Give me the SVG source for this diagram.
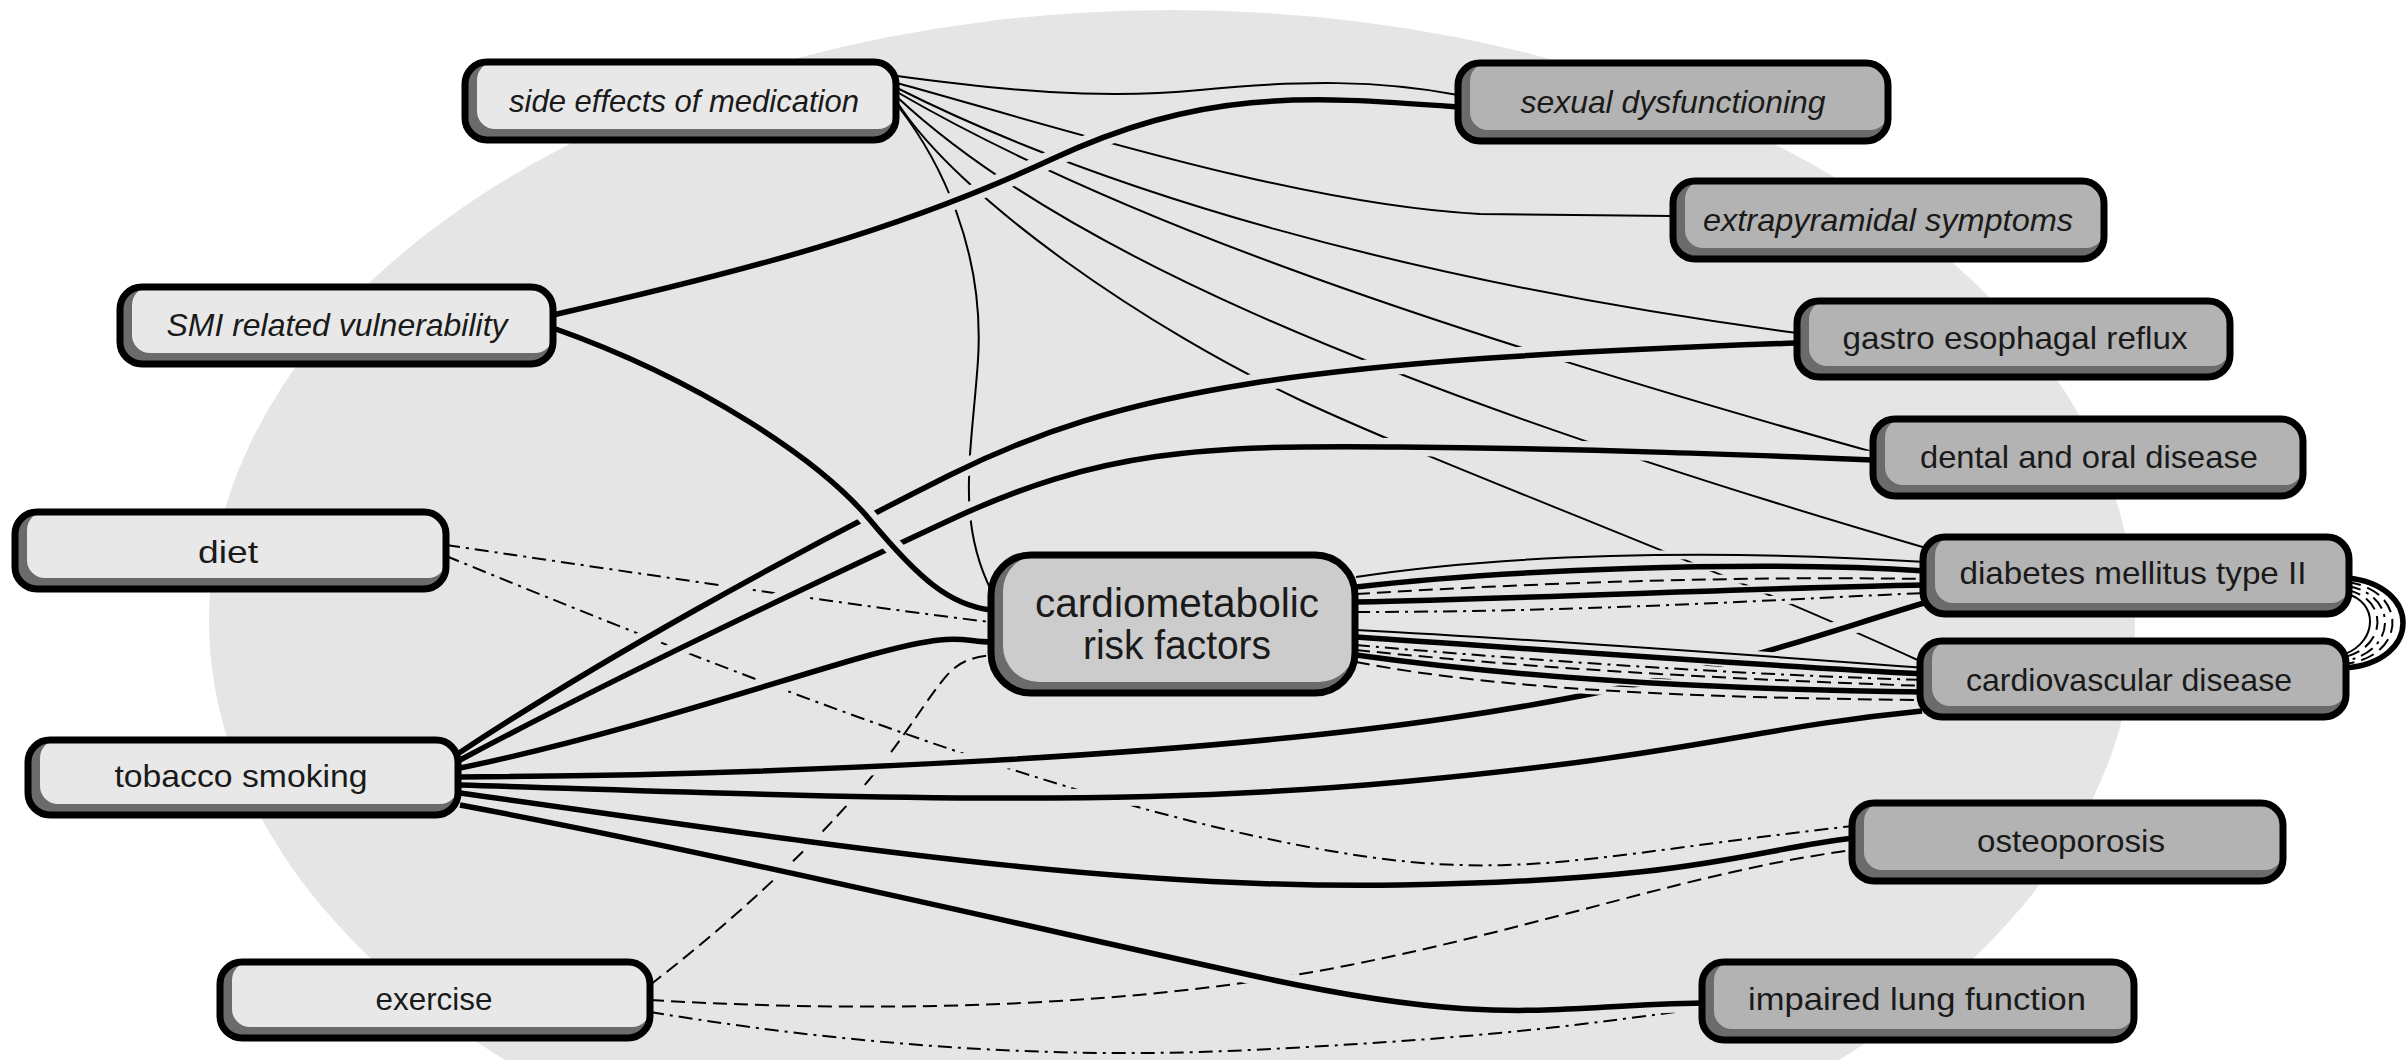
<svg xmlns="http://www.w3.org/2000/svg" xmlns:xlink="http://www.w3.org/1999/xlink" width="2407" height="1060" viewBox="0 0 2407 1060">
<style>
.bg{fill:#e5e5e5}
.sh{fill:#6b6b6b}
.fl{fill:#e8e8e8}
.fr{fill:#b3b3b3}
.fc{fill:#cccccc}
.bd{fill:none;stroke:#000;stroke-width:7}
.t{font-family:"Liberation Sans",Arial,sans-serif;font-size:32px;fill:#1a1a1a;text-anchor:middle}
.it{font-style:italic}
.tc{font-size:40px}
.c{fill:none;stroke:#000}
.thin{stroke-width:2}
.thick{stroke-width:5.5}
.dash{stroke-width:2;stroke-dasharray:14 7}
.dd{stroke-width:2;stroke-dasharray:14 6 3 6}
.halo{fill:none;stroke:#e5e5e5;stroke-width:18}
.halo2{fill:none;stroke:#e5e5e5;stroke-width:9}
</style>
<defs>
<path id="p-se-sex" d="M 897 76 C 1000 90, 1100 100, 1200 90 S 1380 80, 1458 95"/>
<path id="p-se-ext" d="M 897 83 C 1050 125, 1300 205, 1480 214 L 1673 216"/>
<path id="p-se-gas" d="M 897 88 C 1100 190, 1400 280, 1797 333"/>
<path id="p-se-den" d="M 897 92 C 1100 210, 1400 320, 1873 452"/>
<path id="p-se-dia" d="M 897 97 C 1050 240, 1350 380, 1926 548"/>
<path id="p-se-cvd" d="M 897 102 C 960 200, 1150 330, 1300 400 S 1700 560, 1922 662"/>
<path id="p-se-cm" d="M 898 106 C 940 160, 985 250, 978 360 C 972 450, 955 520, 992 592"/>
<path id="p-di-cm" d="M 446 545 C 650 575, 850 605, 990 622"/>
<path id="p-di-os" d="M 446 556 C 700 660, 1000 780, 1250 835 S 1550 860, 1853 826"/>
<path id="p-ex-cm" d="M 650 985 C 760 900, 850 810, 900 740 S 950 660, 992 655"/>
<path id="p-ex-os" d="M 650 1000 C 900 1015, 1150 1005, 1350 965 S 1700 870, 1853 850"/>
<path id="p-ex-lu" d="M 650 1012 C 850 1045, 1050 1060, 1250 1050 S 1550 1030, 1703 1008"/>
<path id="p-to-gas" d="M 459 753 C 600 660, 780 560, 950 475 S 1300 360, 1797 343"/>
<path id="p-to-den" d="M 460 760 C 620 675, 800 590, 950 520 S 1200 445, 1400 447 S 1750 455, 1873 460"/>
<path id="p-to-cm" d="M 460 768 C 620 735, 780 680, 870 655 S 960 642, 992 642"/>
<path id="p-to-dia" d="M 460 777 C 800 775, 1200 755, 1450 718 S 1800 640, 1924 603"/>
<path id="p-to-cvd" d="M 460 785 C 800 795, 1100 810, 1400 782 S 1750 728, 1922 711"/>
<path id="p-to-os" d="M 460 793 C 800 840, 1100 890, 1400 885 S 1750 850, 1853 838"/>
<path id="p-to-lu" d="M 460 805 C 700 850, 1000 920, 1250 975 S 1550 1005, 1703 1003"/>
<path id="p-smi-sex" d="M 553 315 C 750 270, 900 230, 1050 160 S 1300 95, 1458 107"/>
<path id="p-smi-cm" d="M 553 328 C 700 380, 820 460, 870 520 S 950 605, 991 610"/>
<path id="p-b1" d="M 1356 577 C 1500 555, 1700 548, 1926 562"/>
<path id="p-b2" d="M 1356 587 C 1500 570, 1750 560, 1926 571"/>
<path id="p-b3" d="M 1356 594 C 1550 582, 1750 576, 1926 579"/>
<path id="p-b4" d="M 1356 602 C 1550 598, 1750 588, 1926 585"/>
<path id="p-b5" d="M 1356 612 C 1600 612, 1800 598, 1926 593"/>
<path id="p-c1" d="M 1356 630 C 1550 640, 1750 655, 1926 668"/>
<path id="p-c2" d="M 1356 637 C 1550 650, 1750 665, 1926 674"/>
<path id="p-c3" d="M 1356 645 C 1550 662, 1750 675, 1926 680"/>
<path id="p-c4" d="M 1356 650 C 1550 670, 1750 680, 1926 686"/>
<path id="p-c5" d="M 1356 655 C 1550 682, 1750 690, 1926 692"/>
<path id="p-c6" d="M 1356 662 C 1500 690, 1700 698, 1926 700"/>
</defs>

<ellipse class="bg" cx="1172" cy="620" rx="963" ry="610"/>

<g id="connectors">
  <!-- side effects of medication: thin solid -->
  <use href="#p-se-sex" class="c thin"/>
  <use href="#p-se-ext" class="c thin"/>
  <use href="#p-se-gas" class="c thin"/>
  <use href="#p-se-den" class="c thin"/>
  <use href="#p-se-dia" class="c thin"/>
  <use href="#p-se-cvd" class="c thin"/>
  <use href="#p-se-cm" class="c thin"/>
  <!-- diet / exercise -->
  <use href="#p-di-cm" class="c dd"/>
  <use href="#p-di-os" class="c dd"/>
  <use href="#p-ex-cm" class="c dash"/>
  <use href="#p-ex-os" class="c dash"/>
  <use href="#p-ex-lu" class="c dd"/>
  <!-- tobacco smoking: thick -->
  <use href="#p-to-gas" class="halo"/>
  <use href="#p-to-den" class="halo"/>
  <use href="#p-to-cm" class="halo"/>
  <use href="#p-to-dia" class="halo"/>
  <use href="#p-to-cvd" class="halo"/>
  <use href="#p-to-os" class="halo"/>
  <use href="#p-to-lu" class="halo"/>
  <use href="#p-to-gas" class="c thick"/>
  <use href="#p-to-den" class="c thick"/>
  <use href="#p-to-cm" class="c thick"/>
  <use href="#p-to-dia" class="c thick"/>
  <use href="#p-to-cvd" class="c thick"/>
  <use href="#p-to-os" class="c thick"/>
  <use href="#p-to-lu" class="c thick"/>
  <!-- SMI related vulnerability: thick -->
  <use href="#p-smi-sex" class="halo"/>
  <use href="#p-smi-cm" class="halo"/>
  <use href="#p-smi-sex" class="c thick"/>
  <use href="#p-smi-cm" class="c thick"/>
  <!-- cardiometabolic bundles -->
  <use href="#p-b1" class="halo2"/>
  <use href="#p-b2" class="halo2"/>
  <use href="#p-b3" class="halo2"/>
  <use href="#p-b4" class="halo2"/>
  <use href="#p-b5" class="halo2"/>
  <use href="#p-c1" class="halo2"/>
  <use href="#p-c2" class="halo2"/>
  <use href="#p-c3" class="halo2"/>
  <use href="#p-c4" class="halo2"/>
  <use href="#p-c5" class="halo2"/>
  <use href="#p-c6" class="halo2"/>
  <use href="#p-b1" class="c thin"/>
  <use href="#p-b2" class="c thick"/>
  <use href="#p-b3" class="c dash"/>
  <use href="#p-b4" class="c thick"/>
  <use href="#p-b5" class="c dd"/>
  <use href="#p-c1" class="c thin"/>
  <use href="#p-c2" class="c thick"/>
  <use href="#p-c3" class="c dd"/>
  <use href="#p-c4" class="c dash"/>
  <use href="#p-c5" class="c thick"/>
  <use href="#p-c6" class="c dash"/>
  <!-- diabetes <-> cardiovascular loops -->
  <path class="c thick" d="M 2347 578 C 2422 585, 2422 662, 2345 668"/>
  <path class="c dash" d="M 2347 582 C 2408 590, 2408 656, 2345 664"/>
  <path class="c dd" d="M 2347 586 C 2398 594, 2398 651, 2345 661"/>
  <path class="c dash" d="M 2347 590 C 2388 598, 2388 646, 2345 657"/>
  <path class="c thin" d="M 2347 594 C 2378 602, 2378 641, 2345 654"/>
</g>

<g id="node-side-effects">
  <rect class="sh" x="465" y="62" width="431" height="78" rx="22"/>
  <rect class="fl" x="477" y="62" width="419" height="67" rx="18"/>
  <rect class="bd" x="465" y="62" width="431" height="78" rx="22"/>
  <text class="t it" x="684" y="112" textLength="350" lengthAdjust="spacingAndGlyphs">side effects of medication</text>
</g>
<g id="node-smi">
  <rect class="sh" x="120" y="287" width="433" height="77" rx="22"/>
  <rect class="fl" x="132" y="287" width="421" height="66" rx="18"/>
  <rect class="bd" x="120" y="287" width="433" height="77" rx="22"/>
  <text class="t it" x="337" y="336" textLength="341" lengthAdjust="spacingAndGlyphs">SMI related vulnerability</text>
</g>
<g id="node-diet">
  <rect class="sh" x="15" y="512" width="431" height="77" rx="22"/>
  <rect class="fl" x="27" y="512" width="419" height="66" rx="18"/>
  <rect class="bd" x="15" y="512" width="431" height="77" rx="22"/>
  <text class="t" x="228" y="563" textLength="60" lengthAdjust="spacingAndGlyphs">diet</text>
</g>
<g id="node-tobacco">
  <rect class="sh" x="28" y="740" width="430" height="75" rx="22"/>
  <rect class="fl" x="40" y="740" width="418" height="64" rx="18"/>
  <rect class="bd" x="28" y="740" width="430" height="75" rx="22"/>
  <text class="t" x="241" y="787" textLength="253" lengthAdjust="spacingAndGlyphs">tobacco smoking</text>
</g>
<g id="node-exercise">
  <rect class="sh" x="220" y="962" width="430" height="76" rx="22"/>
  <rect class="fl" x="232" y="962" width="418" height="65" rx="18"/>
  <rect class="bd" x="220" y="962" width="430" height="76" rx="22"/>
  <text class="t" x="434" y="1010" textLength="117" lengthAdjust="spacingAndGlyphs">exercise</text>
</g>
<g id="node-cardiometabolic">
  <rect class="sh" x="991" y="555" width="364" height="138" rx="40"/>
  <rect class="fc" x="1003" y="555" width="352" height="127" rx="36"/>
  <rect class="bd" x="991" y="555" width="364" height="138" rx="40"/>
  <text class="t tc" x="1177" y="617" textLength="284" lengthAdjust="spacingAndGlyphs">cardiometabolic</text>
  <text class="t tc" x="1177" y="659" textLength="188" lengthAdjust="spacingAndGlyphs">risk factors</text>
</g>
<g id="node-sexual">
  <rect class="sh" x="1458" y="63" width="430" height="78" rx="22"/>
  <rect class="fr" x="1470" y="63" width="418" height="67" rx="18"/>
  <rect class="bd" x="1458" y="63" width="430" height="78" rx="22"/>
  <text class="t it" x="1673" y="113" textLength="305" lengthAdjust="spacingAndGlyphs">sexual dysfunctioning</text>
</g>
<g id="node-extrapyramidal">
  <rect class="sh" x="1673" y="181" width="431" height="78" rx="22"/>
  <rect class="fr" x="1685" y="181" width="419" height="67" rx="18"/>
  <rect class="bd" x="1673" y="181" width="431" height="78" rx="22"/>
  <text class="t it" x="1888" y="231" textLength="370" lengthAdjust="spacingAndGlyphs">extrapyramidal symptoms</text>
</g>
<g id="node-gastro">
  <rect class="sh" x="1797" y="301" width="433" height="76" rx="22"/>
  <rect class="fr" x="1809" y="301" width="421" height="65" rx="18"/>
  <rect class="bd" x="1797" y="301" width="433" height="76" rx="22"/>
  <text class="t" x="2015" y="349" textLength="345" lengthAdjust="spacingAndGlyphs">gastro esophagal reflux</text>
</g>
<g id="node-dental">
  <rect class="sh" x="1873" y="419" width="430" height="77" rx="22"/>
  <rect class="fr" x="1885" y="419" width="418" height="66" rx="18"/>
  <rect class="bd" x="1873" y="419" width="430" height="77" rx="22"/>
  <text class="t" x="2089" y="468" textLength="338" lengthAdjust="spacingAndGlyphs">dental and oral disease</text>
</g>
<g id="node-diabetes">
  <rect class="sh" x="1923" y="537" width="426" height="77" rx="22"/>
  <rect class="fr" x="1935" y="537" width="414" height="66" rx="18"/>
  <rect class="bd" x="1923" y="537" width="426" height="77" rx="22"/>
  <text class="t" x="2133" y="584" textLength="347" lengthAdjust="spacingAndGlyphs">diabetes mellitus type II</text>
</g>
<g id="node-cardiovascular">
  <rect class="sh" x="1920" y="641" width="426" height="76" rx="22"/>
  <rect class="fr" x="1932" y="641" width="414" height="65" rx="18"/>
  <rect class="bd" x="1920" y="641" width="426" height="76" rx="22"/>
  <text class="t" x="2129" y="691" textLength="326" lengthAdjust="spacingAndGlyphs">cardiovascular disease</text>
</g>
<g id="node-osteoporosis">
  <rect class="sh" x="1852" y="803" width="431" height="78" rx="22"/>
  <rect class="fr" x="1864" y="803" width="419" height="67" rx="18"/>
  <rect class="bd" x="1852" y="803" width="431" height="78" rx="22"/>
  <text class="t" x="2071" y="852" textLength="188" lengthAdjust="spacingAndGlyphs">osteoporosis</text>
</g>
<g id="node-impaired-lung">
  <rect class="sh" x="1702" y="962" width="432" height="78" rx="22"/>
  <rect class="fr" x="1714" y="962" width="420" height="67" rx="18"/>
  <rect class="bd" x="1702" y="962" width="432" height="78" rx="22"/>
  <text class="t" x="1917" y="1010" textLength="338" lengthAdjust="spacingAndGlyphs">impaired lung function</text>
</g>
</svg>
